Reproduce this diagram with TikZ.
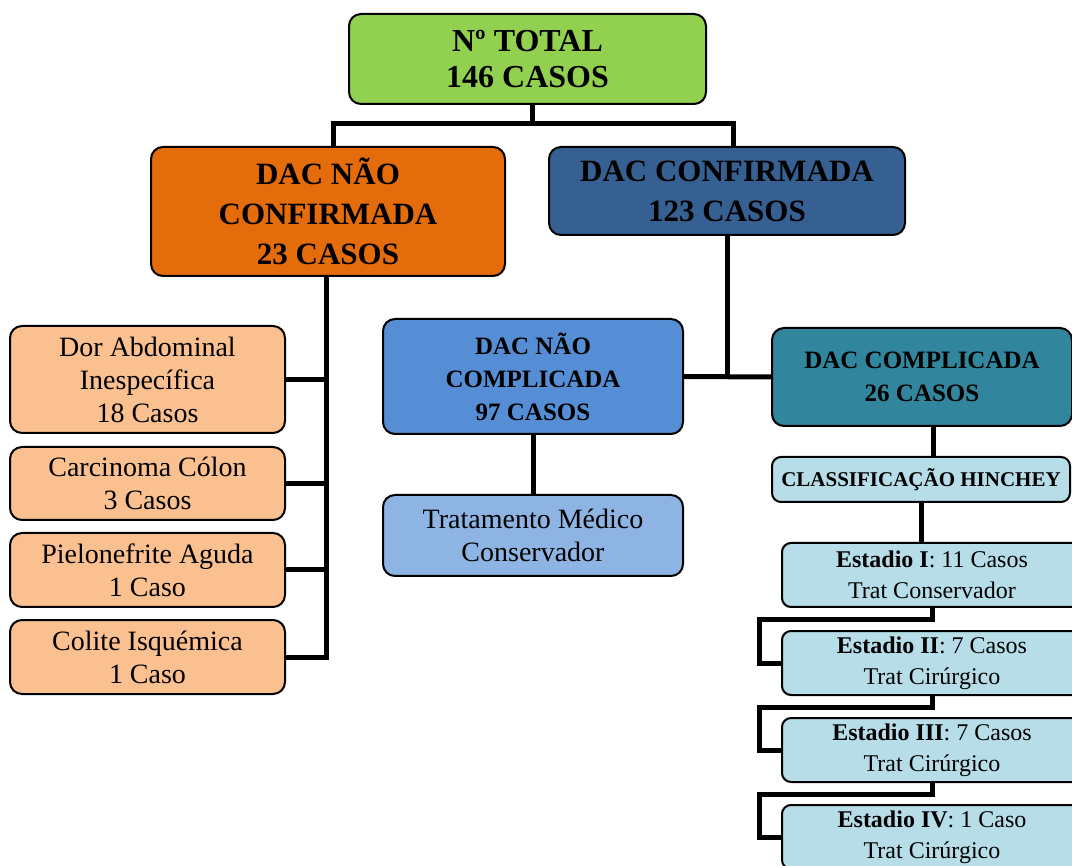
\documentclass[tikz,border=0pt]{standalone}
\usepackage{fontspec}
\setmainfont{Liberation Serif}
\definecolor{verde}{HTML}{92D050}
\definecolor{laranja}{HTML}{E46C0A}
\definecolor{azulesc}{HTML}{366092}
\definecolor{azulmed}{HTML}{558ED5}
\definecolor{azulcl}{HTML}{8EB4E3}
\definecolor{petroleo}{HTML}{31859C}
\definecolor{salmao}{HTML}{FAC090}
\definecolor{ciano}{HTML}{B7DEE8}
\begin{document}
\begin{tikzpicture}[x=1pt, y=-1pt,
    box/.style={draw, line width=2pt, rounded corners=12pt, align=center, inner sep=0pt},
    head/.style={box, font=\bfseries\fontsize{31}{40}\selectfont},
    sub/.style={box, font=\bfseries\fontsize{25}{33}\selectfont},
    leaf/.style={box, fill=salmao, minimum width=275pt, font=\fontsize{28}{33}\selectfont},
    stage/.style={box, fill=ciano, rounded corners=9pt, minimum width=300pt,
                  minimum height=64pt, font=\fontsize{24}{31}\selectfont},
    link/.style={line width=5pt}]
  \useasboundingbox (0,0) rectangle (1072,866);
  % topo
  \node[head, fill=verde, minimum width=357pt, minimum height=90pt,
        font=\bfseries\fontsize{32}{36}\selectfont] (total) at (527.5,59) {Nº TOTAL\\146 CASOS};
  \node[head, fill=laranja, minimum width=354pt, minimum height=129pt] (naoconf) at (328,211.5)
    {DAC NÃO\\CONFIRMADA\\23 CASOS};
  \node[head, fill=azulesc, minimum width=356pt, minimum height=88pt] (conf) at (727,191)
    {DAC CONFIRMADA\\123 CASOS};
  % ramo esquerdo
  \node[leaf, minimum height=107pt] (dor) at (147.5,379.5) {Dor Abdominal\\Inespecífica\\18 Casos};
  \node[leaf, minimum height=73pt] (carc) at (147.5,483.5) {Carcinoma Cólon\\3 Casos};
  \node[leaf, minimum height=74pt] (piel) at (147.5,570) {Pielonefrite Aguda\\1 Caso};
  \node[leaf, minimum height=74pt] (colite) at (147.5,657) {Colite Isquémica\\1 Caso};
  % ramo direito
  \node[sub, fill=azulmed, minimum width=300pt, minimum height=115pt] (naocomp) at (533,376.5)
    {DAC NÃO\\COMPLICADA\\97 CASOS};
  \node[box, fill=azulcl, minimum width=300pt, minimum height=81pt,
        font=\fontsize{28}{33}\selectfont] (tratmed) at (533,535.5) {Tratamento Médico\\Conservador};
  \node[sub, fill=petroleo, minimum width=300pt, minimum height=98pt] (comp) at (922,377)
    {DAC COMPLICADA\\26 CASOS};
  \node[box, fill=ciano, rounded corners=9pt, minimum width=298pt, minimum height=45pt,
        font=\bfseries\fontsize{21}{24}\selectfont] (hinchey) at (921,479.5) {CLASSIFICAÇÃO HINCHEY};
  \node[stage] (est1) at (932,575) {\textbf{Estadio I}: 11 Casos\\Trat Conservador};
  \node[stage] (est2) at (932,663) {\textbf{Estadio II}: 7 Casos\\Trat Cirúrgico};
  \node[stage] (est3) at (932,750) {\textbf{Estadio III}: 7 Casos\\Trat Cirúrgico};
  \node[stage] (est4) at (932,837) {\textbf{Estadio IV}: 1 Caso\\Trat Cirúrgico};
  % ligacoes
  \draw[link] ([xshift=5pt]total.south) -- ++(0,19) coordinate (bus);
  \draw[link] ([xshift=5pt]naoconf.north) |- (bus) -| ([xshift=6pt]conf.north);
  \draw[link] ([xshift=-2pt]naoconf.south) |- (colite.east);
  \foreach \n in {dor,carc,piel}
    \draw[link] (\n.east) -- ([xshift=-2pt]\n.east -| naoconf.south);
  \draw[link] (conf.south) -- (conf.south |- naocomp.east);
  \draw[link] (naocomp.east) -- (comp.west);
  \draw[link] (naocomp.south) -- (tratmed.north);
  \draw[link] ([xshift=11pt]comp.south) -- ([xshift=11pt]comp.south |- hinchey.north);
  \draw[link] (hinchey.south) -- (hinchey.south |- est1.north);
  \foreach \a/\b in {est1/est2,est2/est3,est3/est4}
    \draw[link] (\a.south) -- ++(0,11) -| ([xshift=-22pt]\b.west) -- (\b.west);
\end{tikzpicture}
\end{document}
